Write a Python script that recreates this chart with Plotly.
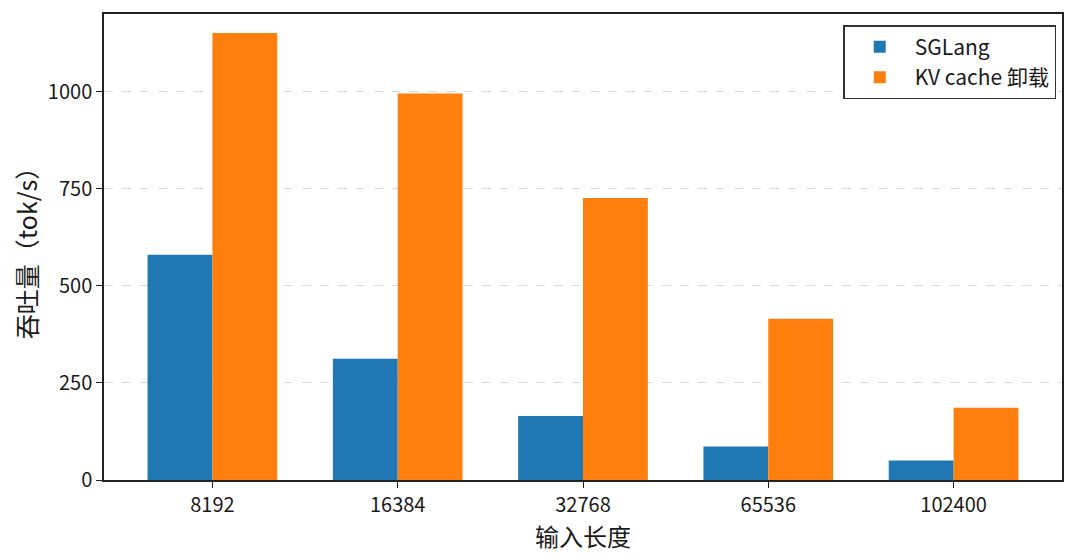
import plotly.graph_objects as go

input_lengths = ["8192", "16384", "32768", "65536", "102400"]
sglang = [580, 312, 165, 86, 50]
kv_offload = [1151, 995, 726, 415, 186]

font_family = "Noto Sans CJK SC, Noto Sans, sans-serif"

fig = go.Figure()
fig.add_trace(go.Bar(x=input_lengths, y=sglang, name="SGLang",
                     marker=dict(color="#1f77b4", line_width=0)))
fig.add_trace(go.Bar(x=input_lengths, y=kv_offload, name="KV cache 卸载",
                     marker=dict(color="#ff7f0e", line_width=0)))

fig.update_layout(
    width=1080, height=558,
    margin=dict(l=96, r=26, t=4, b=86),
    barmode="group", bargap=0.3, bargroupgap=0,
    plot_bgcolor="white", paper_bgcolor="white",
    font=dict(family=font_family, size=20, color="#1a1a1a"),
    legend=dict(x=0.994, y=0.976, xanchor="right", yanchor="top",
                bordercolor="#333333", borderwidth=1.5, bgcolor="white",
                font=dict(size=21), itemsizing="constant", itemwidth=60,
                tracegroupgap=4),
)
fig.update_xaxes(
    title=dict(text="输入长度", font=dict(size=24), standoff=2),
    range=[-0.585, 4.585],
    showline=True, linecolor="#222222", linewidth=1.5, mirror=True,
    ticks="outside", ticklen=6, tickcolor="#222222",
    showgrid=False,
)
fig.update_yaxes(
    title=dict(text="吞吐量（tok/s）", font=dict(size=25), standoff=10),
    range=[0, 1200], tickvals=[0, 250, 500, 750, 1000],
    showline=True, linecolor="#222222", linewidth=1.5, mirror=True,
    ticks="outside", ticklen=6, tickcolor="#222222",
    showgrid=True, gridcolor="#d9d9d9", griddash="dash", gridwidth=1,
    zeroline=False,
)

fig.write_html("out.html")
